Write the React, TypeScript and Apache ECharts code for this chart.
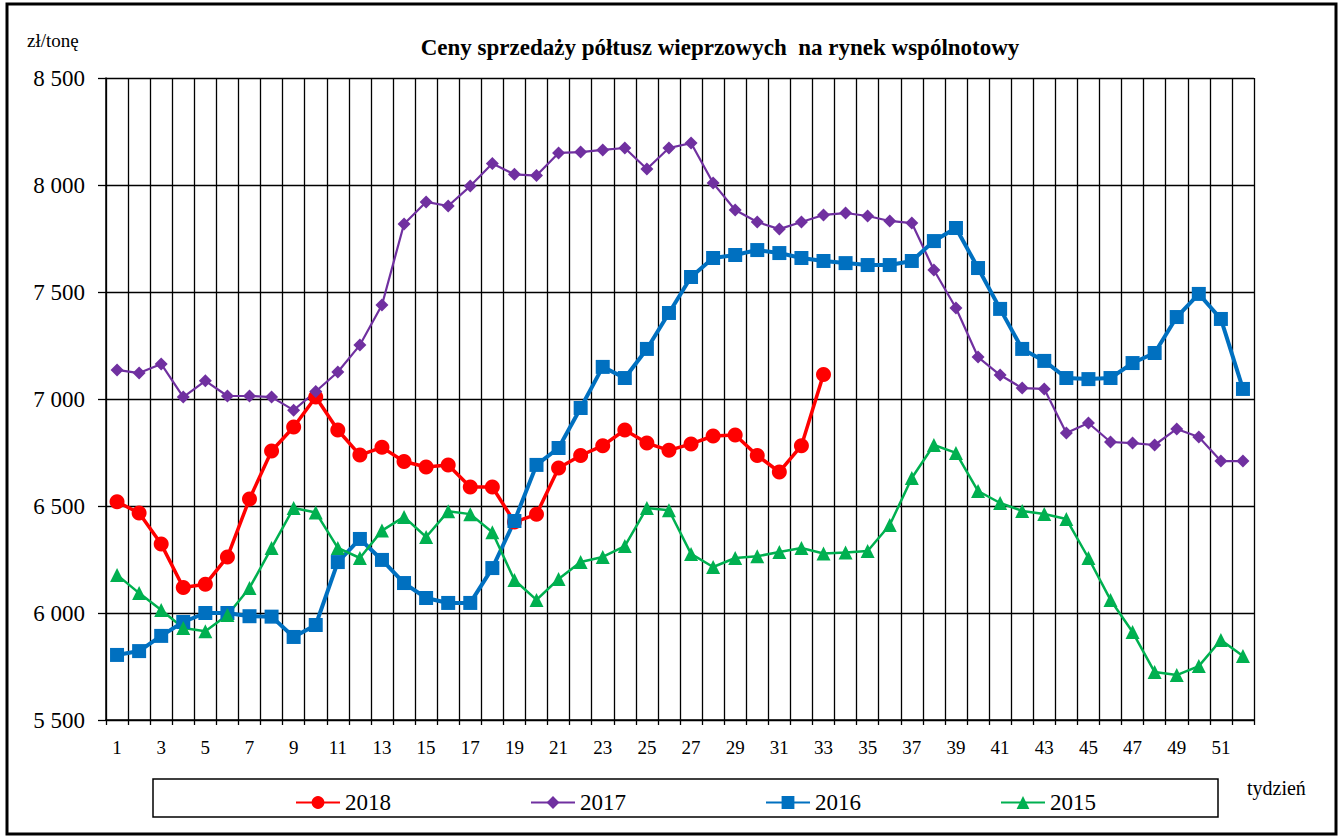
import React, { useEffect, useRef } from "react";
import * as echarts from "echarts";

const weeks: string[] = Array.from({ length: 52 }, (_, i) => String(i + 1));

const y2018: number[] = [
  6520, 6467, 6322, 6119, 6134, 6262, 6533, 6757, 6869, 7009,
  6855, 6738, 6774, 6708, 6682, 6692, 6589, 6589, 6425, 6461,
  6678, 6736, 6782, 6855, 6794, 6760, 6790, 6827, 6832, 6736,
  6659, 6782, 7115,
];

const y2017: number[] = [
  7136, 7121, 7164, 7009, 7085, 7014, 7014, 7009, 6948, 7035,
  7126, 7252, 7439, 7818, 7921, 7902, 7995, 8100, 8050, 8044,
  8150, 8154, 8164, 8173, 8075, 8173, 8196, 8009, 7883, 7827,
  7794, 7827, 7860, 7869, 7855, 7832, 7822, 7603, 7425, 7196,
  7112, 7051, 7047, 6841, 6888, 6799, 6794, 6785, 6860, 6822,
  6710, 6710,
];

const y2016: number[] = [
  5804, 5822, 5893, 5958, 6000, 6000, 5985, 5983, 5888, 5944,
  6238, 6346, 6248, 6140, 6070, 6047, 6047, 6210, 6430, 6692,
  6771, 6958, 7150, 7098, 7234, 7402, 7570, 7659, 7673, 7696,
  7682, 7659, 7645, 7635, 7626, 7626, 7645, 7738, 7799, 7612,
  7421, 7234, 7178, 7098, 7093, 7098, 7168, 7215, 7383, 7491,
  7374, 7047,
];

const y2015: number[] = [
  6178, 6093, 6014, 5930, 5915, 5991, 6117, 6304, 6491, 6470,
  6304, 6257, 6385, 6449, 6355, 6475, 6462, 6377, 6154, 6061,
  6159, 6238, 6262, 6313, 6491, 6480, 6276, 6215, 6257, 6265,
  6285, 6304, 6278, 6283, 6290, 6411, 6631, 6785, 6748, 6570,
  6514, 6477, 6463, 6439, 6257, 6061, 5911, 5724, 5710, 5752,
  5874, 5799,
];

const yTicks = { min: 5500, max: 8500, interval: 500 };

const FONT = "Liberation Serif, Times New Roman, serif";

function fmt(v: number): string {
  const s = String(Math.round(v));
  return s.replace(/\B(?=(\d{3})+(?!\d))/g, " ");
}

export default function App() {
  const ref = useRef<HTMLDivElement>(null);

  useEffect(() => {
    if (!ref.current) return;
    const chart = echarts.init(ref.current, undefined, { renderer: "svg" });
    const option: any = {
      animation: false,
      backgroundColor: "#ffffff",
      textStyle: { fontFamily: FONT, color: "#000" },
      grid: { left: 106, right: 88, top: 78, bottom: 118, containLabel: false },
      title: {
        text: "Ceny sprzedaży półtusz wieprzowych  na rynek wspólnotowy",
        left: 715,
        textAlign: "center",
        top: 31,
        textStyle: { fontFamily: FONT, fontSize: 23, fontWeight: "bold", color: "#000" },
      },
      legend: {
        data: ["2018", "2017", "2016", "2015"],
        left: 290,
        top: 786,
        itemWidth: 44,
        itemHeight: 16,
        itemGap: 139,
        textStyle: { fontFamily: FONT, fontSize: 23, color: "#000" },
      },
      xAxis: {
        type: "category",
        data: weeks,
        boundaryGap: true,
        axisLine: { show: true, lineStyle: { color: "#000", width: 1.5 } },
        axisTick: { show: true, interval: 0, length: 5, lineStyle: { color: "#000", width: 1.3 } },
        axisLabel: { interval: 1, margin: 18, fontFamily: FONT, fontSize: 19, color: "#000" },
        splitLine: { show: true, interval: 0, lineStyle: { color: "#000", width: 1.3 } },
      },
      yAxis: {
        type: "value",
        min: yTicks.min,
        max: yTicks.max,
        interval: yTicks.interval,
        axisLine: { show: true, lineStyle: { color: "#000", width: 1.5 } },
        axisTick: { show: true, length: 8, lineStyle: { color: "#000", width: 1.3 } },
        axisLabel: { margin: 21, fontFamily: FONT, fontSize: 23, color: "#000", formatter: fmt },
        splitLine: { show: true, lineStyle: { color: "#000", width: 1.3 } },
      },
      series: [
        {
          name: "2018",
          type: "line",
          data: y2018,
          symbol: "circle",
          symbolSize: 15,
          showAllSymbol: true,
          lineStyle: { color: "#FF0000", width: 3.5 },
          itemStyle: { color: "#FF0000" },
        },
        {
          name: "2017",
          type: "line",
          data: y2017,
          symbol: "diamond",
          symbolSize: 13,
          showAllSymbol: true,
          lineStyle: { color: "#7030A0", width: 2.2 },
          itemStyle: { color: "#7030A0" },
        },
        {
          name: "2016",
          type: "line",
          data: y2016,
          symbol: "rect",
          symbolSize: 14,
          showAllSymbol: true,
          lineStyle: { color: "#0070C0", width: 4 },
          itemStyle: { color: "#0070C0" },
        },
        {
          name: "2015",
          type: "line",
          data: y2015,
          symbol: "triangle",
          symbolSize: 14,
          showAllSymbol: true,
          lineStyle: { color: "#00B050", width: 2.5 },
          itemStyle: { color: "#00B050" },
        },
      ],
      graphic: [
        {
          type: "rect",
          shape: { x: 7, y: 4, width: 1329, height: 830 },
          style: { fill: "none", stroke: "#000", lineWidth: 3 },
          silent: true,
        },
        {
          type: "rect",
          shape: { x: 153, y: 779, width: 1065, height: 38 },
          style: { fill: "none", stroke: "#000", lineWidth: 1.5 },
          silent: true,
        },
        {
          type: "text",
          left: 27,
          top: 31,
          style: { text: "zł/tonę", fontFamily: FONT, fontSize: 19, fill: "#000" },
        },
        {
          type: "text",
          left: 1247,
          top: 778,
          style: { text: "tydzień", fontFamily: FONT, fontSize: 20, fill: "#000" },
        },
      ],
    };
    chart.setOption(option);
    return () => chart.dispose();
  }, []);

  return (
    <div
      ref={ref}
      style={{ position: "fixed", left: 0, top: 0, width: 1342, height: 838 }}
    />
  );
}
